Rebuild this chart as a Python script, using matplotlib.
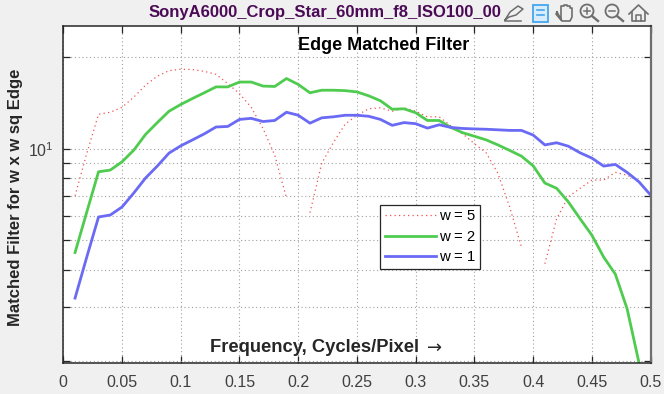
#!/bin/env python3

import numpy as np
import matplotlib
matplotlib.use('Agg')
import matplotlib.pyplot as plt
from matplotlib.patches import Circle, Rectangle

plt.rcParams['font.family'] = ['Liberation Sans', 'DejaVu Sans']
plt.rcParams['mathtext.fontset'] = 'custom'
plt.rcParams['mathtext.rm'] = 'Liberation Sans'
plt.rcParams['mathtext.default'] = 'regular'

freq = np.arange(1, 51) / 100.

w5 = [7.0, 9.66, 13.0, 13.2, 13.7, 14.8, 16.2, 17.35, 18.1, 18.3,
      18.25, 18.0, 17.6, 16.4, 15.2, 13.7, 11.67, 9.53, 6.88, np.nan,
      6.16, 8.95, 10.5, 12.06, 12.9, 13.55, 13.65, 13.3, 13.65, 13.3,
      12.75, 12.75, 11.9, 11.2, 10.4, 9.7, 8.3, 6.43, 4.75, np.nan,
      4.18, 5.88, 6.95, 7.41, 7.89, 7.89, 8.36, 8.19, 7.83, 7.04]
w2 = [4.55, 6.19, 8.4, 8.51, 9.06, 9.9, 11.15, 12.2, 13.3, 14.0,
      14.65, 15.3, 16.0, 16.0, 16.6, 16.6, 16.1, 16.05, 17.05, 16.3,
      15.3, 15.6, 15.6, 15.55, 15.4, 14.95, 14.4, 13.5, 13.55, 13.15,
      12.4, 12.4, 11.76, 11.3, 11.0, 10.7, 10.3, 9.88, 9.46, 8.79,
      7.71, 7.41, 6.68, 5.88, 5.19, 4.40, 3.86, 2.97, 1.98, np.nan]
w1 = [3.22, 4.40, 5.96, 6.05, 6.43, 7.15, 8.01, 8.77, 9.68, 10.23,
      10.7, 11.2, 11.8, 11.85, 12.5, 12.6, 12.3, 12.4, 13.2, 12.9,
      12.15, 12.65, 12.75, 12.9, 12.9, 12.8, 12.5, 11.95, 12.2, 12.1,
      11.7, 12.0, 11.76, 11.67, 11.63, 11.6, 11.55, 11.5, 11.5, 11.1,
      10.3, 10.47, 10.2, 9.7, 9.32, 8.77, 8.88, 8.36, 7.79, 7.04]
labels = ['w = 5', 'w = 2', 'w = 1']
xticks = [0, 0.05, 0.1, 0.15, 0.2, 0.25, 0.3, 0.35, 0.4, 0.45, 0.5]
xticklabels = ['0', '0.05', '0.1', '0.15', '0.2', '0.25', '0.3', '0.35', '0.4', '0.45', '0.5']
minor_yticks = [2, 3, 4, 5, 6, 7, 8, 9, 20]

W, H = 664, 394
BG = '#f0f0f0'
DARK = '#262626'

def draw_toolbar(fig):
    # overlay in pixel coords, y down
    ov = fig.add_axes([0, 0, 1, 1], zorder=5)
    ov.set(xlim=(0, W), ylim=(H, 0)); ov.axis('off'); ov.patch.set_alpha(0)
    g = '#6e6e6e'
    # pencil
    ov.plot([505, 510, 518, 523, 516, 509, 505], [20, 12, 6, 9, 15, 17, 20], color=g, lw=1.1)
    ov.plot([505, 521], [21, 21], color=g, lw=1.1)
    # data cursor box
    ov.add_patch(Rectangle((532.5, 4.5), 15, 17, fc='#d8ecfb', ec='#44a6ec', lw=1.3))
    ov.plot([537, 544], [10, 10], color='#44a6ec', lw=1.2); ov.plot([537, 544], [15, 15], color='#44a6ec', lw=1.2)
    # hand
    ov.plot([557, 556, 561, 561, 564, 564, 567, 567, 570, 570, 572, 572, 570, 562, 557],
            [12, 14, 20, 6, 6, 5, 5, 6, 6, 8, 8, 17, 21, 21, 12], color=g, lw=1.2)
    # zoom in, zoom out
    for cx in (587, 612):
        ov.add_patch(Circle((cx, 11), 6.5, fc='none', ec=g, lw=1.3))
        ov.plot([cx+5, cx+11], [16, 21], color=g, lw=1.7)
        ov.plot([cx-3, cx+3], [11, 11], color=g, lw=1.1)
    ov.plot([587, 587], [8, 14], color=g, lw=1.1)
    # home
    ov.plot([629, 638.5, 648], [14, 5, 14], color=g, lw=1.2)
    ov.plot([632, 632, 645, 645], [12, 21, 21, 12], color=g, lw=1.2)
    ov.plot([636, 636, 641, 641], [21, 15, 15, 21], color=g, lw=1.1)

def main():
    fig = plt.figure(figsize=(W/100, H/100), dpi=100, facecolor=BG)
    ax = fig.add_axes([63.3/W, 1-362.7/H, (650.6-63.3)/W, (362.7-26.)/H])
    ax.plot(freq, w5, color='#f25050', lw=0.9, ls=(0, (1, 2.6)), label=labels[0])
    ax.plot(freq, w2, '-', color='#4fcb4f', lw=2.0, label=labels[1])
    ax.plot(freq, w1, '-', color='#6a6af5', lw=2.0, label=labels[2])

    ax.set_yscale('log')
    ax.set(xlim=(0, 0.5), ylim=(1.972, 25.4))
    ax.set_xticks(xticks); ax.set_xticklabels(xticklabels)
    ax.set_yticks([10]); ax.set_yticklabels(['$10^{1}$'])
    ax.set_yticks(minor_yticks, minor=True)
    ax.set_yticklabels([''] * len(minor_yticks), minor=True)
    ax.grid(True, which='both', color='#a0a0a0', ls=(0, (1, 2.4)), lw=0.8)
    ax.set_axisbelow(True)
    ax.tick_params(which='both', direction='in', top=True, right=True, color=DARK, width=0.9, length=5)
    ax.tick_params(axis='both', labelsize=11.5, labelcolor='#404040')
    ax.tick_params(axis='x', pad=9)
    ax.tick_params(axis='y', pad=7)
    for s in ('left', 'bottom', 'top'):
        ax.spines[s].set_color(DARK); ax.spines[s].set_linewidth(1.1)
    ax.spines['right'].set_color('#6e6e6e'); ax.spines['right'].set_linewidth(1.6)

    fig.text(325/W, 1-12/H, 'SonyA6000_Crop_Star_60mm_f8_ISO100_00', color='#4b0a55',
             fontsize=12, fontweight='bold', ha='center', va='center')
    fig.text(383.5/W, 1-45/H, 'Edge Matched Filter', color='black',
             fontsize=13, fontweight='bold', ha='center', va='center')
    fig.text(315/W, 1-347/H, 'Frequency, Cycles/Pixel', color=DARK,
             fontsize=13.2, fontweight='bold', ha='center', va='center')
    fig.text(435/W, 1-347.5/H, '\u2192', color=DARK, family='DejaVu Sans',
             fontsize=13, ha='center', va='center')
    fig.text(15.5/W, 1-197.5/H, 'Matched Filter for w x w sq Edge', color=DARK, rotation=90,
             fontsize=12, fontweight='bold', ha='center', va='center')

    leg = ax.legend(loc='center', bbox_to_anchor=(430.3/W, 1-236.8/H), bbox_transform=fig.transFigure,
                    fontsize=10.8, fancybox=False, framealpha=1, edgecolor=DARK,
                    handlelength=3.4, handletextpad=0.2, labelspacing=0.42, borderpad=0.33, borderaxespad=0)
    leg.get_frame().set_linewidth(0.9)

    draw_toolbar(fig)
    fig.savefig('out.png', dpi=100, facecolor=BG)

if __name__=="__main__":
    main()
